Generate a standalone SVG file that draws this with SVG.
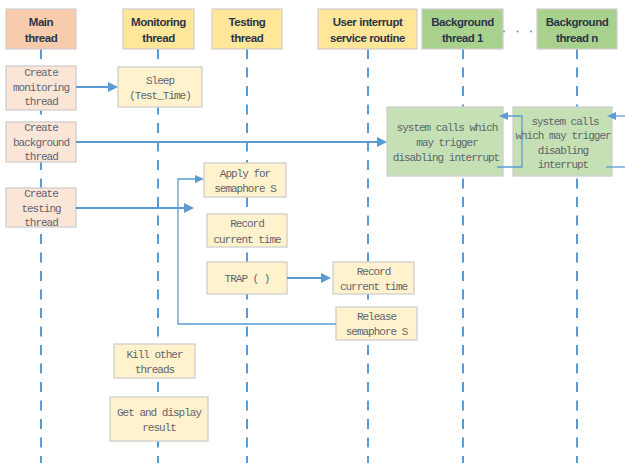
<svg xmlns="http://www.w3.org/2000/svg" width="625" height="468" viewBox="0 0 625 468">
  <defs>
    <marker id="ah" markerUnits="userSpaceOnUse" markerWidth="10" markerHeight="10" refX="0" refY="5" orient="auto">
      <path d="M0,0 L10,5 L0,10 z" fill="#5b9bd5"/>
    </marker>
    <marker id="ahs" markerUnits="userSpaceOnUse" markerWidth="9" markerHeight="8" refX="0" refY="4" orient="auto">
      <path d="M0,0 L9,4 L0,8 z" fill="#5b9bd5"/>
    </marker>
  </defs>
  <style>
    .hdr { stroke: #d0cece; stroke-width: 1.2; }
    .main { fill: #f8cbad; }
    .yel { fill: #ffe699; }
    .grn { fill: #a9d18e; }
    .box { stroke: #d0cece; stroke-width: 1.3; }
    .bm { fill: #fbe5d6; }
    .by { fill: #fff2cc; }
    .bg { fill: #c5e0b4; }
    .ht { font-family: "Liberation Sans", Arial, sans-serif; font-weight: bold; font-size: 11.5px; letter-spacing: -0.45px; fill: #2b3546; text-anchor: middle; }
    .bt { font-family: "Liberation Mono", "Noto Sans CJK SC", monospace; font-size: 11px; letter-spacing: -1px; fill: #5f6670; text-anchor: middle; }
    .life { stroke: #5b9bd5; stroke-width: 2; stroke-dasharray: 10 8.5; fill: none; }
    .thick { stroke: #5b9bd5; stroke-width: 2; fill: none; }
    .thin { stroke: #5b9bd5; stroke-width: 1.3; fill: none; }
  </style>

  <g id="lifelines">
    <line class="life" x1="41" y1="49" x2="41" y2="463"/>
    <line class="life" x1="158" y1="49" x2="158" y2="463"/>
    <line class="life" x1="247" y1="49" x2="247" y2="463"/>
    <line class="life" x1="368" y1="49" x2="368" y2="463"/>
    <line class="life" x1="463" y1="49" x2="463" y2="463"/>
    <line class="life" x1="577" y1="49" x2="577" y2="463"/>
  </g>

  <g id="header-main">
    <rect class="hdr main" x="6" y="9" width="70" height="40"/>
    <text class="ht" x="41" y="26">Main</text>
    <text class="ht" x="41" y="42">thread</text>
  </g>
  <g id="header-monitoring">
    <rect class="hdr yel" x="123" y="9" width="71" height="40"/>
    <text class="ht" x="158.5" y="26">Monitoring</text>
    <text class="ht" x="158.5" y="42">thread</text>
  </g>
  <g id="header-testing">
    <rect class="hdr yel" x="212" y="9" width="70" height="40"/>
    <text class="ht" x="247" y="26">Testing</text>
    <text class="ht" x="247" y="42">thread</text>
  </g>
  <g id="header-user">
    <rect class="hdr yel" x="318" y="9" width="99" height="40"/>
    <text class="ht" x="367.5" y="26">User interrupt</text>
    <text class="ht" x="367.5" y="42">service routine</text>
  </g>
  <g id="header-bg1">
    <rect class="hdr grn" x="422" y="9" width="81" height="40"/>
    <text class="ht" x="462.5" y="26">Background</text>
    <text class="ht" x="462.5" y="42">thread 1</text>
  </g>
  <g id="header-bgn">
    <rect class="hdr grn" x="537" y="9" width="80" height="40"/>
    <text class="ht" x="577" y="26">Background</text>
    <text class="ht" x="577" y="42">thread n</text>
  </g>
  <g id="ellipsis">
    <circle cx="504" cy="31.5" r="1" fill="#5b9bd5"/>
    <circle cx="517.5" cy="31.5" r="1" fill="#5b9bd5"/>
    <circle cx="531" cy="31.5" r="1" fill="#5b9bd5"/>
  </g>

  <g id="create-monitoring">
    <rect class="box bm" x="6" y="66" width="70" height="44"/>
    <text class="bt" x="41" y="76">Create</text>
    <text class="bt" x="41" y="91">monitoring</text>
    <text class="bt" x="41" y="105">thread</text>
  </g>
  <g id="create-background">
    <rect class="box bm" x="6" y="122" width="70" height="40"/>
    <text class="bt" x="41" y="131">Create</text>
    <text class="bt" x="41" y="146">background</text>
    <text class="bt" x="41" y="160">thread</text>
  </g>
  <g id="create-testing">
    <rect class="box bm" x="6" y="188" width="70" height="39"/>
    <text class="bt" x="41" y="197">Create</text>
    <text class="bt" x="41" y="212">testing</text>
    <text class="bt" x="41" y="226">thread</text>
  </g>
  <g id="sleep">
    <rect class="box by" x="118" y="67" width="84" height="40"/>
    <text class="bt" x="160" y="84">Sleep</text>
    <text class="bt" x="160" y="99">(Test_Time)</text>
  </g>
  <g id="apply">
    <rect class="box by" x="204" y="163" width="82" height="34"/>
    <text class="bt" x="245" y="177">Apply for</text>
    <text class="bt" x="245" y="192">semaphore S</text>
  </g>
  <g id="record-testing">
    <rect class="box by" x="207" y="214" width="80" height="33"/>
    <text class="bt" x="247" y="227">Record</text>
    <text class="bt" x="247" y="243">current time</text>
  </g>
  <g id="trap">
    <rect class="box by" x="207" y="262" width="80" height="32"/>
    <text class="bt" x="247" y="282">TRAP ( )</text>
  </g>
  <g id="record-user">
    <rect class="box by" x="333" y="262" width="81" height="32"/>
    <text class="bt" x="373.5" y="275">Record</text>
    <text class="bt" x="373.5" y="290">current time</text>
  </g>
  <g id="release">
    <rect class="box by" x="336" y="307" width="81" height="33"/>
    <text class="bt" x="376.5" y="320">Release</text>
    <text class="bt" x="376.5" y="335">semaphore S</text>
  </g>
  <g id="kill">
    <rect class="box by" x="114" y="344" width="81" height="34"/>
    <text class="bt" x="154.5" y="358">Kill other</text>
    <text class="bt" x="154.5" y="373">threads</text>
  </g>
  <g id="result">
    <rect class="box by" x="110" y="397" width="98" height="44"/>
    <text class="bt" x="159" y="416">Get and display</text>
    <text class="bt" x="159" y="431">result</text>
  </g>
  <g id="syscall-bg1">
    <rect class="box bg" x="387" y="107" width="116" height="69"/>
    <text class="bt" x="447" y="131">system calls which</text>
    <text class="bt" x="447" y="146">may trigger</text>
    <text class="bt" x="446" y="161">disabling interrupt</text>
  </g>
  <g id="syscall-bgn">
    <rect class="box bg" x="513" y="107" width="99" height="69"/>
    <text class="bt" x="565" y="125">system calls</text>
    <text class="bt" x="563" y="139">which may trigger</text>
    <text class="bt" x="563" y="154">disabling</text>
    <text class="bt" x="563" y="168">interrupt</text>
  </g>

  <g id="connectors">
    <line class="thick" x1="76" y1="87" x2="108" y2="87" marker-end="url(#ah)"/>
    <line class="thick" x1="76" y1="142" x2="377" y2="142" marker-end="url(#ah)"/>
    <line class="thick" x1="76" y1="208" x2="184" y2="208" marker-end="url(#ah)"/>
    <path class="thin" d="M336,324 H178 V179 H195" marker-end="url(#ahs)"/>
    <line class="thick" x1="287" y1="278" x2="321" y2="278" marker-end="url(#ah)"/>
    <path class="thin" d="M497,167 H522 V116 H508" marker-end="url(#ahs)"/>
    <line class="thin" x1="606" y1="167" x2="625" y2="167"/>
    <line class="thin" x1="625" y1="116" x2="616" y2="116" marker-end="url(#ahs)"/>
  </g>
</svg>
